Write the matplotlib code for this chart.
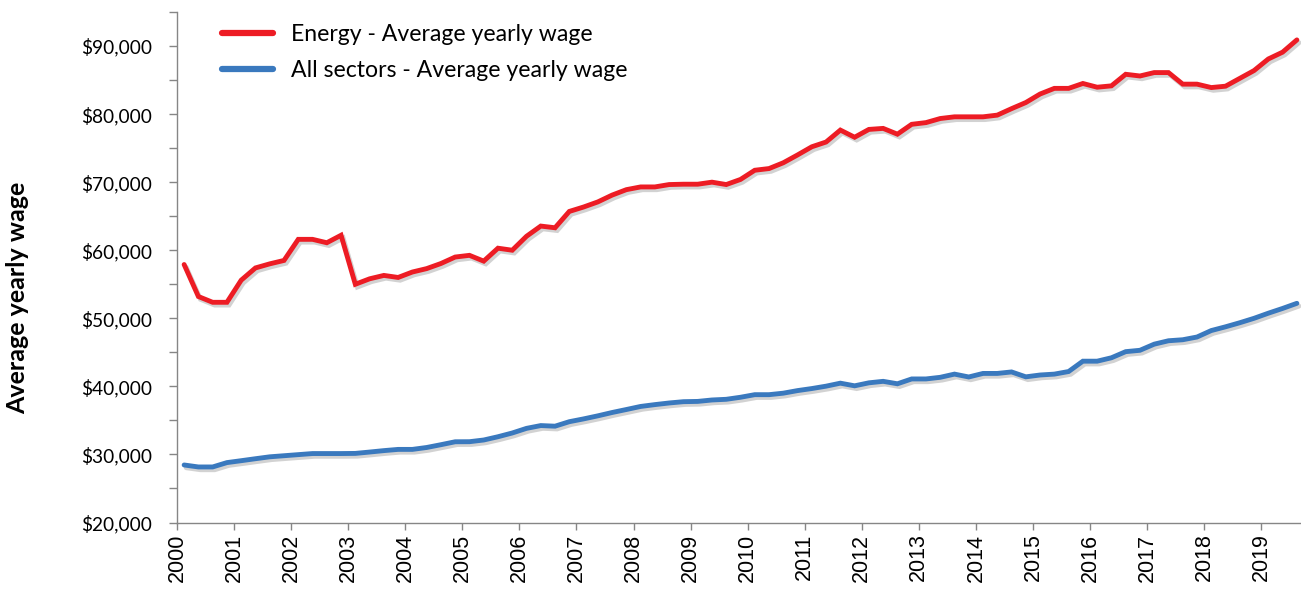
import matplotlib
matplotlib.use("Agg")
import matplotlib.pyplot as plt
import matplotlib.patheffects as pe
from matplotlib.ticker import FuncFormatter, MultipleLocator
import numpy as np

# Quarterly categories 2000Q1 .. 2019Q3
quarters = [f"{y}Q{q}" for y in range(2000, 2020) for q in range(1, 5)][:79]
year_labels = [str(y) for y in range(2000, 2020)]

energy_wage = [57900, 53200, 52350, 52350, 55600, 57400, 58000, 58500, 61600, 61600, 61100, 62200,
               55000, 55800, 56300, 56000, 56800, 57300, 58050, 59000, 59250, 58400, 60300, 60000,
               62050, 63550, 63300, 65700, 66350, 67100, 68100, 68900, 69300, 69300, 69650, 69700,
               69700, 70000, 69650, 70400, 71750, 72000, 72850, 74000, 75200, 75900, 77650, 76600,
               77750, 77900, 77050, 78500, 78750, 79350, 79600, 79600, 79600, 79850, 80800, 81700,
               82950, 83780, 83780, 84500, 83950, 84150, 85850, 85600, 86100, 86100, 84400, 84400,
               83900, 84100, 85250, 86400, 88100, 89100, 90900]

all_sectors_wage = [28450, 28160, 28160, 28800, 29080, 29370, 29650, 29810, 29970, 30130, 30130, 30130,
                    30150, 30350, 30560, 30740, 30740, 31020, 31430, 31860, 31870, 32120, 32600, 33150,
                    33830, 34240, 34150, 34810, 35220, 35670, 36160, 36600, 37050, 37320, 37560, 37750,
                    37790, 38000, 38100, 38400, 38780, 38780, 39000, 39380, 39680, 40030, 40470, 40080,
                    40520, 40740, 40380, 41090, 41090, 41330, 41800, 41380, 41900, 41900, 42120, 41400,
                    41670, 41800, 42180, 43700, 43700, 44200, 45100, 45300, 46200, 46700, 46850, 47250,
                    48200, 48750, 49350, 50000, 50750, 51450, 52200]

series_names = ["Energy - Average yearly wage", "All sectors - Average yearly wage"]
colors = ["#ED1C24", "#3A79BE"]

W, H = 1301, 592
fig = plt.figure(figsize=(W / 100, H / 100), dpi=100)
left, bottom = 177 / W, 1 - 522.5 / H
ax = fig.add_axes([left, bottom, 1304 / W - left, (1 - 12 / H) - bottom])

x = np.arange(len(quarters)) + 0.5
shadow = [pe.SimpleLineShadow(offset=(1.5, -2), shadow_color="#808080", alpha=0.35), pe.Normal()]
for vals, name, c in zip([energy_wage, all_sectors_wage], series_names, colors):
    ax.plot(x, vals, color=c, lw=3.5, label=name, solid_joinstyle="miter",
            solid_capstyle="round", path_effects=shadow)

ax.set_xlim(0, len(quarters))
ax.set_ylim(20000, 95000)

for s in ["top", "right"]:
    ax.spines[s].set_visible(False)
for s in ["left", "bottom"]:
    ax.spines[s].set_color("#868686")
    ax.spines[s].set_linewidth(1.0)

ax.yaxis.set_major_locator(MultipleLocator(10000))
ax.yaxis.set_minor_locator(MultipleLocator(5000))
ax.yaxis.set_major_formatter(FuncFormatter(lambda v, p: f"${v:,.0f}" if v <= 90000 else ""))
ax.tick_params(axis="y", which="both", direction="out", length=6, width=1, color="#868686",
               labelsize=13.8, pad=12)
for t in ax.get_yticklabels():
    t.set_fontfamily("Lato")

ax.set_xticks(np.arange(0, len(quarters), 4))
ax.set_xticklabels(year_labels, rotation=90, fontsize=15.5, fontfamily="Liberation Sans")
ax.tick_params(axis="x", direction="out", length=5, width=1, color="#868686", pad=3)

fig.text(18 / W, 1 - 298 / H, "Average yearly wage", rotation=90, ha="center", va="center",
         fontsize=18, fontweight="bold", fontfamily="Lato")

leg = ax.legend(loc="upper left", bbox_to_anchor=(222 / W, 1 - 24 / H),
                bbox_transform=fig.transFigure, frameon=False,
                prop={"family": "Lato", "size": 16.6}, handlelength=2.2, handletextpad=0.8,
                labelspacing=0.65, borderpad=0, borderaxespad=0)
for l in leg.get_lines():
    l.set_linewidth(4.5)
    l.set_path_effects([])

fig.savefig("out.png", dpi=100)
